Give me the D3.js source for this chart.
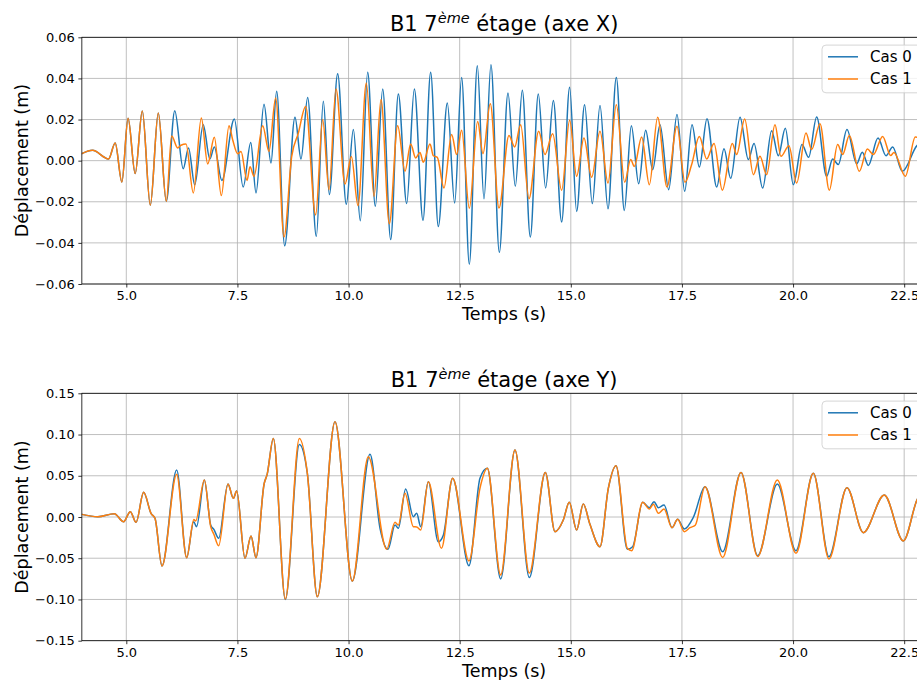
<!DOCTYPE html>
<html><head><meta charset="utf-8">
<script src="https://cdn.jsdelivr.net/npm/d3@7"></script>
<style>
body{margin:0;background:#fff}
svg{display:block}
text{font-family:"DejaVu Sans",sans-serif;fill:#000}
</style>
</head><body>
<svg id="c" width="917" height="680"></svg>
<script>
const seriesNames = ["Cas 0", "Cas 1"];
const seriesColors = ["#1f77b4", "#ff7f0e"];
const xTicks = [5.0, 7.5, 10.0, 12.5, 15.0, 17.5, 20.0, 22.5];
const yTicksTop = [-0.06, -0.04, -0.02, 0.00, 0.02, 0.04, 0.06];
const yTicksBottom = [-0.15, -0.10, -0.05, 0.00, 0.05, 0.10, 0.15];
const titles = ["axe X", "axe Y"];

// [time (s), displacement (m)] — extrema
const topShared = [[4.00,0.0034],[4.24,0.0050],[4.60,0.0008],[4.75,0.0086],[4.90,-0.0104],[5.04,0.0206],[5.20,-0.0063],[5.36,0.0242],[5.54,-0.0217],[5.72,0.0232],[5.90,-0.0198]];
const topCas0 = [[6.09,0.0243],[6.28,-0.0039],[6.40,0.0062],[6.54,-0.0118],[6.73,0.0175],[6.88,0.0008],[6.98,0.0067],[7.15,-0.0096],[7.43,0.0203],[7.63,-0.0128],[7.80,0.0088],[7.918,-0.0157],[8.098,0.0274],[8.255,-0.0011],[8.383,0.0337],[8.563,-0.0414],[8.795,0.0211],[8.930,0.0008],[9.080,0.0307],[9.275,-0.0368],[9.433,0.0289],[9.568,-0.0165],[9.755,0.0423],[9.950,-0.0212],[10.108,0.0151],[10.265,-0.0292],[10.430,0.0430],[10.603,-0.0222],[10.768,0.0349],[10.948,-0.0384],[11.120,0.0324],[11.308,-0.0209],[11.480,0.0349],[11.675,-0.0290],[11.847,0.0430],[12.019,-0.0320],[12.222,0.0280],[12.387,-0.0206],[12.544,0.0405],[12.717,-0.0504],[12.897,0.0462],[13.047,-0.0185],[13.204,0.0467],[13.392,-0.0446],[13.587,0.0329],[13.752,-0.0125],[13.909,0.0342],[14.089,-0.0371],[14.269,0.0324],[14.434,-0.0133],[14.607,0.0292],[14.794,-0.0298],[14.974,0.0357],[15.131,-0.0247],[15.311,0.0272],[15.484,-0.0209],[15.657,0.0268],[15.837,-0.0234],[16.024,0.0405],[16.204,-0.0242],[16.362,0.0170],[16.527,-0.0112],[16.684,0.0148],[16.842,-0.0044],[17.007,0.0175],[17.202,-0.0141],[17.389,0.0224],[17.562,-0.0149],[17.727,0.0175],[17.892,-0.0031],[18.064,0.0204],[18.282,-0.0128],[18.447,0.0058],[18.597,-0.0086],[18.807,0.0211],[18.994,0.0005],[19.122,0.0083],[19.317,-0.0133],[19.518,0.0146],[19.668,0.0024],[19.826,0.0157],[20.006,-0.0117],[20.201,0.0078],[20.351,0.0016],[20.531,0.0212],[20.756,-0.0076],[20.891,0.0008],[21.018,-0.0019],[21.213,0.0151],[21.431,-0.0015],[21.558,0.0041],[21.693,-0.0023],[21.911,0.0110],[22.091,0.0024],[22.241,0.0067],[22.458,-0.0052],[22.788,0.0073],[22.95,0.0095]];
const topCas1 = [[6.021,0.0120],[6.156,0.0062],[6.23,0.0075],[6.343,0.0081],[6.508,-0.0157],[6.688,0.0208],[6.831,-0.0016],[6.981,0.0114],[7.138,-0.0170],[7.311,0.0170],[7.393,0.0102],[7.506,0.0034],[7.581,0.0044],[7.716,-0.0096],[7.783,-0.0030],[7.873,-0.0076],[8.068,0.0170],[8.210,0.0045],[8.360,0.0305],[8.548,-0.0371],[8.720,0.0020],[8.870,0.0134],[9.035,0.0264],[9.260,-0.0264],[9.418,0.0200],[9.560,-0.0141],[9.718,0.0349],[9.920,-0.0114],[10.063,0.0020],[10.213,-0.0219],[10.400,0.0378],[10.573,-0.0174],[10.730,0.0297],[10.918,-0.0307],[11.105,0.0170],[11.270,-0.0052],[11.398,0.0081],[11.510,0.0013],[11.607,0.0040],[11.682,-0.0008],[11.832,0.0081],[11.907,0.0024],[11.997,0.0016],[12.147,-0.0133],[12.319,0.0127],[12.432,0.0030],[12.544,0.0148],[12.717,-0.0232],[12.904,0.0191],[13.024,0.0034],[13.189,0.0277],[13.384,-0.0230],[13.609,0.0122],[13.737,0.0067],[13.872,0.0175],[14.059,-0.0185],[14.277,0.0143],[14.419,0.0030],[14.592,0.0131],[14.794,-0.0144],[14.974,0.0196],[15.131,-0.0076],[15.296,0.0110],[15.469,-0.0081],[15.657,0.0143],[15.837,-0.0109],[16.024,0.0272],[16.212,-0.0105],[16.347,0.0005],[16.429,-0.0028],[16.594,0.0115],[16.767,-0.0117],[16.954,0.0211],[17.164,-0.0128],[17.389,0.0167],[17.569,-0.0105],[17.719,-0.0019],[17.892,0.0118],[18.057,0.0008],[18.222,0.0083],[18.409,-0.0144],[18.634,0.0083],[18.732,0.0030],[18.912,0.0203],[19.107,-0.0068],[19.256,0.0021],[19.406,-0.0068],[19.593,0.0175],[19.728,0.0021],[19.908,0.0073],[20.081,-0.0109],[20.291,0.0135],[20.418,0.0054],[20.606,0.0180],[20.816,-0.0144],[21.003,0.0078],[21.116,0.0030],[21.266,0.0122],[21.491,-0.0052],[21.671,0.0057],[21.806,0.0030],[22.016,0.0118],[22.196,0.0025],[22.27,0.0040],[22.526,-0.0076],[22.75,0.0115],[22.95,0.0100]];

const botShared = [[4.00,0.0032],[4.36,0.0004],[4.73,0.0040],[4.94,-0.0057],[5.09,0.0065],[5.22,-0.0065],[5.39,0.0300],[5.556,0.0044],[5.646,-0.0016],[5.803,-0.0594]];
const botCas0 = [[6.133,0.0570],[6.358,-0.0493],[6.516,-0.0057],[6.58,-0.0117],[6.756,0.0449],[6.90,-0.0100],[6.97,-0.0150],[7.078,-0.0259],[7.288,0.0400],[7.408,0.0226],[7.483,0.0315],[7.670,-0.0501],[7.806,-0.0230],[7.918,-0.0493],[8.10,0.0400],[8.17,0.0520],[8.308,0.0953],[8.578,-0.1000],[8.893,0.0880],[9.073,0.0530],[9.298,-0.0966],[9.695,0.1156],[10.085,-0.0776],[10.483,0.0760],[10.708,-0.0137],[10.888,-0.0392],[11.045,-0.0097],[11.12,-0.0137],[11.285,0.0340],[11.457,0.0004],[11.533,0.0044],[11.623,-0.0117],[11.795,0.0428],[12.019,-0.0300],[12.132,-0.0220],[12.342,0.0469],[12.709,-0.0590],[12.957,0.0470],[13.122,0.0590],[13.422,-0.0750],[13.744,0.0812],[14.067,-0.0735],[14.427,0.0540],[14.644,-0.0178],[14.831,-0.0036],[14.966,0.0178],[15.131,-0.0158],[15.281,0.0158],[15.431,-0.0089],[15.657,-0.0360],[15.844,0.0347],[16.017,0.0622],[16.272,-0.0392],[16.392,-0.0360],[16.617,0.0178],[16.767,0.0113],[16.872,0.0186],[16.97,0.0113],[17.097,0.0145],[17.277,-0.0130],[17.404,-0.0028],[17.554,-0.0145],[17.76,0.0000],[18.019,0.0368],[18.417,-0.0420],[18.829,0.0540],[19.204,-0.0469],[19.646,0.0400],[20.066,-0.0408],[20.456,0.0530],[20.808,-0.0481],[21.213,0.0356],[21.581,-0.0190],[22.053,0.0267],[22.481,-0.0290],[22.788,0.0206],[22.95,0.0340]];
const botCas1 = [[6.133,0.0517],[6.358,-0.0493],[6.52,-0.0030],[6.56,-0.0050],[6.756,0.0449],[6.90,-0.0120],[6.97,-0.0210],[7.078,-0.0348],[7.288,0.0400],[7.408,0.0226],[7.483,0.0315],[7.670,-0.0501],[7.806,-0.0230],[7.918,-0.0493],[8.10,0.0400],[8.17,0.0520],[8.308,0.0953],[8.578,-0.0994],[8.893,0.0953],[9.073,0.0530],[9.298,-0.0966],[9.695,0.1156],[10.085,-0.0776],[10.445,0.0731],[10.858,-0.0392],[11.045,-0.0065],[11.12,-0.0097],[11.27,0.0287],[11.457,-0.0117],[11.533,-0.0120],[11.623,-0.0158],[11.795,0.0428],[12.09,-0.0380],[12.342,0.0469],[12.709,-0.0533],[12.957,0.0350],[13.122,0.0590],[13.422,-0.0703],[13.744,0.0812],[14.067,-0.0680],[14.427,0.0540],[14.644,-0.0178],[14.831,-0.0036],[14.966,0.0178],[15.131,-0.0158],[15.281,0.0158],[15.431,-0.0089],[15.657,-0.0360],[15.844,0.0347],[16.017,0.0622],[16.272,-0.0380],[16.37,-0.0408],[16.617,0.0178],[16.767,0.0097],[16.857,0.0154],[16.97,0.0044],[17.097,0.0097],[17.277,-0.0130],[17.404,-0.0028],[17.554,-0.0178],[17.68,-0.0130],[17.80,-0.0100],[18.019,0.0368],[18.417,-0.0490],[18.829,0.0540],[19.204,-0.0480],[19.646,0.0448],[20.066,-0.0440],[20.456,0.0530],[20.808,-0.0510],[21.213,0.0356],[21.581,-0.0190],[22.053,0.0267],[22.481,-0.0290],[22.788,0.0206],[22.95,0.0340]];

const svg = d3.select("#c");
const x = d3.scaleLinear().domain([4, 23]).range([81.85, 926.4]);

const panels = [
  {top: 37.3, bottom: 284, yDom: [-0.06, 0.06], yTicks: yTicksTop, title: titles[0],
   series: [topShared.concat(topCas0), topShared.concat(topCas1)]},
  {top: 393.3, bottom: 640.7, yDom: [-0.15, 0.15], yTicks: yTicksBottom, title: titles[1],
   series: [botShared.concat(botCas0), botShared.concat(botCas1)]}
];

panels.forEach((p, i) => {
  const y = d3.scaleLinear().domain(p.yDom).range([p.bottom, p.top]);
  const g = svg.append("g");
  const x0 = x.range()[0], x1 = x.range()[1];

  g.append("clipPath").attr("id", "clip" + i)
    .append("rect").attr("x", x0).attr("y", p.top).attr("width", x1 - x0).attr("height", p.bottom - p.top);

  // grid
  g.append("g").selectAll("line").data(xTicks).join("line")
    .attr("x1", d => x(d)).attr("x2", d => x(d)).attr("y1", p.top).attr("y2", p.bottom)
    .attr("stroke", "#b0b0b0").attr("stroke-width", 0.8);
  g.append("g").selectAll("line").data(p.yTicks).join("line")
    .attr("x1", x0).attr("x2", x1).attr("y1", d => y(d)).attr("y2", d => y(d))
    .attr("stroke", "#b0b0b0").attr("stroke-width", 0.8);

  // series
  const line = d3.line().x(d => x(d[0])).y(d => y(d[1])).curve(d3.curveMonotoneX);
  const sg = g.append("g").attr("clip-path", `url(#clip${i})`);
  p.series.forEach((s, k) => {
    sg.append("path").datum(s).attr("d", line).attr("fill", "none")
      .attr("stroke", seriesColors[k]).attr("stroke-width", 1.5)
      .attr("stroke-linejoin", "round").attr("stroke-linecap", "square");
  });

  // spines
  g.append("rect").attr("x", x0).attr("y", p.top).attr("width", x1 - x0).attr("height", p.bottom - p.top)
    .attr("fill", "none").attr("stroke", "#000").attr("stroke-width", 0.8);

  // axes
  const xa = g.append("g").attr("transform", `translate(0,${p.bottom})`)
    .call(d3.axisBottom(x).tickValues(xTicks).tickFormat(d3.format(".1f")).tickSize(3.5).tickPadding(3.5));
  const ya = g.append("g").attr("transform", `translate(${x0},0)`)
    .call(d3.axisLeft(y).tickValues(p.yTicks).tickFormat(d3.format(".2f")).tickSize(3.5).tickPadding(3.5));
  [xa, ya].forEach(a => {
    a.select(".domain").remove();
    a.selectAll(".tick line").attr("stroke", "#000").attr("stroke-width", 0.8);
    a.selectAll("text").attr("font-family", "DejaVu Sans").attr("font-size", 13).attr("fill", "#000");
  });

  // title
  const t = g.append("text").attr("x", (x0 + x1) / 2).attr("y", p.top - 6.6)
    .attr("text-anchor", "middle").attr("font-size", 21);
  t.append("tspan").text("B1 7");
  t.append("tspan").attr("font-style", "italic").attr("font-size", 14.5).attr("dy", -8).text("ème");
  t.append("tspan").attr("dy", 8).text("\u00a0étage (" + p.title + ")");

  // axis labels
  g.append("text").attr("x", (x0 + x1) / 2).attr("y", p.bottom + 36)
    .attr("text-anchor", "middle").attr("font-size", 17.5).text("Temps (s)");
  g.append("text").attr("transform", `translate(28,${(p.top + p.bottom) / 2}) rotate(-90)`)
    .attr("text-anchor", "middle").attr("font-size", 17.5).text("Déplacement (m)");

  // legend
  const lg = g.append("g").attr("transform", `translate(822,${p.top + 7.8})`);
  lg.append("rect").attr("x", 0).attr("y", 0).attr("width", 110).attr("height", 47.7).attr("rx", 4)
    .attr("fill", "#fff").attr("fill-opacity", 0.8).attr("stroke", "#cccccc").attr("stroke-width", 0.8);
  seriesNames.forEach((n, k) => {
    const yy = 11.7 + k * 22.2;
    lg.append("line").attr("x1", 6).attr("x2", 36).attr("y1", yy).attr("y2", yy)
      .attr("stroke", seriesColors[k]).attr("stroke-width", 1.5);
    lg.append("text").attr("x", 48).attr("y", yy + 5.4).attr("font-size", 15).text(n);
  });
});
</script>
</body></html>
